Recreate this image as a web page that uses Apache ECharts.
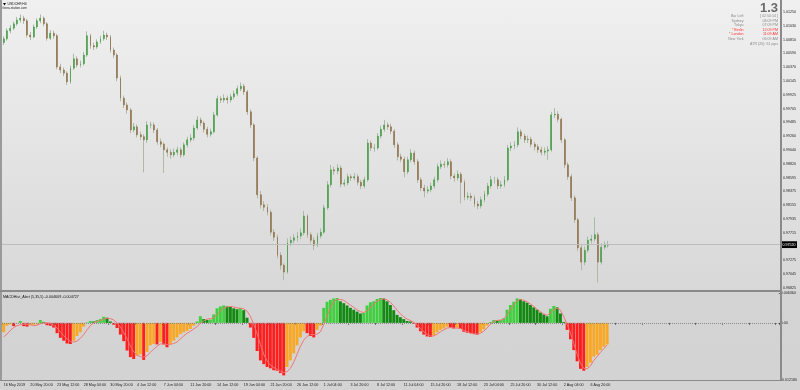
<!DOCTYPE html>
<html><head><meta charset="utf-8">
<script src="https://cdn.jsdelivr.net/npm/echarts@6/dist/echarts.min.js"></script>
<style>
html,body{margin:0;padding:0;}
#c{width:800px;height:390px;background:linear-gradient(to bottom,#f0f0f0 0px,#d8d8d8 290px,#d4d4d4 292px,#d3d3d3 390px);}
</style>
</head><body><div id="c"></div>
<script>
// ---- axis structure ----
const slotCount = 233; // visible 8h bar slots across the plot
const xTickLabels = ["16 May 2019","20 May 20:00","23 May 12:00","28 May 04:00","30 May 20:00","4 Jun 12:00","7 Jun 04:00","11 Jun 20:00","14 Jun 12:00","19 Jun 04:00","21 Jun 20:00","26 Jun 12:00","1 Jul 04:00","3 Jul 20:00","8 Jul 12:00","11 Jul 04:00","15 Jul 20:00","18 Jul 12:00","23 Jul 04:00","25 Jul 20:00","30 Jul 12:00","2 Aug 04:00","6 Aug 20:00"];
const xTickEvery = 8;
const priceTicks = ["1.01250","1.01030","1.00810","1.00590","1.00370","1.00145","0.99925","0.99705","0.99485","0.99260","0.99040","0.98820","0.98595","0.98375","0.98155","0.97935","0.97715","0.97495","0.97275","0.97045","0.96825"];
const macdTicks = [-0.012180, 0, 0.006364];

// ---- price data (USDCHF) ----
const opens = [1.0076,1.0082,1.0095,1.0099,1.0106,1.0112,1.0115,1.0111,1.0088,1.0085,
1.0101,1.0111,1.0115,1.0106,1.0083,1.0091,1.0087,1.0037,1.0032,1.0027,
1.0013,1.0035,1.0050,1.0040,1.0042,1.0056,1.0087,1.0071,1.0069,1.0077,
1.0082,1.0088,1.0085,1.0064,1.0056,1.0019,0.9987,0.9976,0.9968,0.9936,
0.9941,0.9928,0.9925,0.9920,0.9944,0.9944,0.9936,0.9917,0.9913,0.9904,
0.9900,0.9896,0.9900,0.9904,0.9896,0.9912,0.9920,0.9923,0.9939,0.9952,
0.9947,0.9937,0.9929,0.9933,0.9960,0.9986,0.9984,0.9987,0.9984,0.9989,
0.9994,1.0002,1.0006,0.9997,0.9965,0.9944,0.9891,0.9832,0.9816,0.9812,
0.9804,0.9772,0.9764,0.9735,0.9719,0.9708,0.9755,0.9759,0.9763,0.9766,
0.9771,0.9798,0.9768,0.9759,0.9751,0.9766,0.9772,0.9811,0.9848,0.9872,
0.9870,0.9875,0.9849,0.9851,0.9861,0.9859,0.9861,0.9852,0.9846,0.9856,
0.9915,0.9907,0.9907,0.9926,0.9937,0.9944,0.9941,0.9934,0.9912,0.9893,
0.9889,0.9869,0.9888,0.9899,0.9885,0.9856,0.9843,0.9838,0.9840,0.9846,
0.9856,0.9877,0.9881,0.9880,0.9885,0.9862,0.9859,0.9865,0.9852,0.9828,
0.9830,0.9827,0.9817,0.9814,0.9824,0.9833,0.9846,0.9856,0.9856,0.9846,
0.9848,0.9856,0.9907,0.9910,0.9912,0.9933,0.9926,0.9920,0.9921,0.9913,
0.9909,0.9904,0.9900,0.9902,0.9904,0.9960,0.9961,0.9953,0.9920,0.9880,
0.9861,0.9827,0.9792,0.9747,0.9724,0.9743,0.9759,0.9761,0.9768,0.9724,
0.9748,0.9751];
const highs = [1.0086,1.0099,1.0104,1.0110,1.0117,1.0121,1.0119,1.0114,1.0093,1.0105,
1.0115,1.0121,1.0118,1.0109,1.0096,1.0095,1.0090,1.0042,1.0036,1.0030,
1.0039,1.0058,1.0054,1.0047,1.0061,1.0094,1.0090,1.0076,1.0081,1.0087,
1.0095,1.0092,1.0088,1.0068,1.0059,1.0023,0.9991,0.9980,0.9971,0.9947,
0.9945,0.9933,0.9929,0.9950,0.9949,0.9948,0.9939,0.9922,0.9916,0.9908,
0.9905,0.9906,0.9909,0.9908,0.9916,0.9925,0.9929,0.9944,0.9958,0.9956,
0.9950,0.9941,0.9938,0.9965,0.9991,0.9990,0.9993,0.9991,0.9994,0.9999,
1.0007,1.0012,1.0010,1.0000,0.9969,0.9947,0.9894,0.9838,0.9822,0.9817,
0.9808,0.9777,0.9768,0.9740,0.9722,0.9762,0.9765,0.9769,0.9772,0.9778,
0.9806,0.9801,0.9772,0.9764,0.9771,0.9778,0.9816,0.9854,0.9880,0.9877,
0.9881,0.9879,0.9857,0.9866,0.9865,0.9867,0.9865,0.9856,0.9861,0.9921,
0.9919,0.9913,0.9931,0.9943,0.9952,0.9948,0.9946,0.9937,0.9916,0.9898,
0.9893,0.9893,0.9905,0.9903,0.9889,0.9860,0.9848,0.9846,0.9851,0.9861,
0.9882,0.9887,0.9886,0.9891,0.9889,0.9866,0.9871,0.9868,0.9856,0.9836,
0.9835,0.9831,0.9822,0.9829,0.9838,0.9851,0.9862,0.9861,0.9860,0.9854,
0.9862,0.9912,0.9916,0.9918,0.9940,0.9937,0.9930,0.9927,0.9925,0.9917,
0.9913,0.9909,0.9908,0.9910,0.9965,0.9971,0.9966,0.9956,0.9923,0.9884,
0.9865,0.9831,0.9795,0.9751,0.9749,0.9765,0.9768,0.9796,0.9772,0.9754,
0.9757,0.9758];
const lows = [1.0072,1.0079,1.0091,1.0096,1.0103,1.0108,1.0106,1.0084,1.0080,1.0083,
1.0098,1.0107,1.0102,1.0079,1.0080,1.0082,1.0033,1.0027,1.0022,1.0008,
1.0010,1.0032,1.0036,1.0036,1.0039,1.0053,1.0066,1.0064,1.0066,1.0074,
1.0079,1.0080,1.0060,1.0051,1.0014,0.9982,0.9971,0.9962,0.9931,0.9932,
0.9924,0.9920,0.9868,0.9915,0.9938,0.9931,0.9912,0.9908,0.9867,0.9893,
0.9890,0.9892,0.9895,0.9891,0.9893,0.9908,0.9916,0.9919,0.9936,0.9942,
0.9932,0.9924,0.9925,0.9930,0.9957,0.9979,0.9980,0.9978,0.9980,0.9985,
0.9990,0.9998,0.9992,0.9960,0.9939,0.9886,0.9826,0.9810,0.9806,0.9799,
0.9767,0.9758,0.9730,0.9712,0.9695,0.9705,0.9750,0.9754,0.9757,0.9761,
0.9767,0.9763,0.9754,0.9743,0.9748,0.9762,0.9769,0.9808,0.9844,0.9864,
0.9865,0.9844,0.9845,0.9847,0.9854,0.9855,0.9847,0.9841,0.9842,0.9853,
0.9902,0.9901,0.9904,0.9922,0.9933,0.9936,0.9929,0.9907,0.9887,0.9884,
0.9860,0.9865,0.9884,0.9880,0.9851,0.9838,0.9828,0.9834,0.9836,0.9842,
0.9852,0.9873,0.9875,0.9876,0.9857,0.9853,0.9855,0.9818,0.9823,0.9824,
0.9822,0.9812,0.9809,0.9810,0.9820,0.9829,0.9842,0.9850,0.9841,0.9842,
0.9844,0.9853,0.9902,0.9905,0.9908,0.9921,0.9915,0.9915,0.9908,0.9903,
0.9899,0.9895,0.9895,0.9888,0.9901,0.9955,0.9948,0.9915,0.9875,0.9856,
0.9822,0.9787,0.9742,0.9711,0.9719,0.9739,0.9754,0.9757,0.9691,0.9720,
0.9744,0.9747];
const closes = [1.0082,1.0095,1.0099,1.0106,1.0112,1.0115,1.0111,1.0088,1.0085,1.0101,
1.0111,1.0115,1.0106,1.0083,1.0091,1.0087,1.0037,1.0032,1.0027,1.0013,
1.0035,1.0050,1.0040,1.0042,1.0056,1.0087,1.0071,1.0069,1.0077,1.0082,
1.0088,1.0085,1.0064,1.0056,1.0019,0.9987,0.9976,0.9968,0.9936,0.9941,
0.9928,0.9925,0.9920,0.9944,0.9944,0.9936,0.9917,0.9913,0.9904,0.9900,
0.9896,0.9900,0.9904,0.9896,0.9912,0.9920,0.9923,0.9939,0.9952,0.9947,
0.9937,0.9929,0.9933,0.9960,0.9986,0.9984,0.9987,0.9984,0.9989,0.9994,
1.0002,1.0006,0.9997,0.9965,0.9944,0.9891,0.9832,0.9816,0.9812,0.9804,
0.9772,0.9764,0.9735,0.9719,0.9708,0.9755,0.9759,0.9763,0.9766,0.9771,
0.9798,0.9768,0.9759,0.9751,0.9766,0.9772,0.9811,0.9848,0.9872,0.9870,
0.9875,0.9849,0.9851,0.9861,0.9859,0.9861,0.9852,0.9846,0.9856,0.9915,
0.9907,0.9907,0.9926,0.9937,0.9944,0.9941,0.9934,0.9912,0.9893,0.9889,
0.9869,0.9888,0.9899,0.9885,0.9856,0.9843,0.9838,0.9840,0.9846,0.9856,
0.9877,0.9881,0.9880,0.9885,0.9862,0.9859,0.9865,0.9852,0.9828,0.9830,
0.9827,0.9817,0.9814,0.9824,0.9833,0.9846,0.9856,0.9856,0.9846,0.9848,
0.9856,0.9907,0.9910,0.9912,0.9933,0.9926,0.9920,0.9921,0.9913,0.9909,
0.9904,0.9900,0.9902,0.9904,0.9960,0.9961,0.9953,0.9920,0.9880,0.9861,
0.9827,0.9792,0.9747,0.9724,0.9743,0.9759,0.9761,0.9768,0.9724,0.9748,
0.9751,0.9752];

// ---- MACDHist_Alert (5,35,5) ----
const macdHist = [-0.0020,-0.0006,-0.0003,-0.0007,-0.0001,0.0004,-0.0007,-0.0008,-0.0005,-0.0004,
-0.0003,0.0006,0.0002,-0.0005,-0.0006,-0.0010,-0.0022,-0.0032,-0.0038,-0.0044,
-0.0045,-0.0038,-0.0028,-0.0020,-0.0008,0.0001,0.0004,0.0003,0.0006,0.0008,
0.0013,0.0011,0.0003,-0.0004,-0.0011,-0.0025,-0.0039,-0.0059,-0.0073,-0.0077,
-0.0070,-0.0067,-0.0079,-0.0062,-0.0048,-0.0045,-0.0046,-0.0041,-0.0046,-0.0052,
-0.0045,-0.0038,-0.0031,-0.0024,-0.0020,-0.0017,-0.0013,-0.0006,0.0003,0.0014,
0.0008,0.0006,0.0007,0.0018,0.0031,0.0035,0.0037,0.0035,0.0034,0.0031,
0.0029,0.0032,0.0027,0.0011,-0.0010,-0.0032,-0.0060,-0.0080,-0.0088,-0.0094,
-0.0097,-0.0101,-0.0102,-0.0107,-0.0112,-0.0094,-0.0080,-0.0065,-0.0048,-0.0031,
-0.0018,-0.0022,-0.0028,-0.0031,-0.0015,-0.0006,0.0032,0.0045,0.0049,0.0052,
0.0053,0.0046,0.0042,0.0037,0.0032,0.0028,0.0024,0.0020,0.0021,0.0037,
0.0044,0.0046,0.0051,0.0053,0.0052,0.0046,0.0038,0.0027,0.0017,0.0012,
0.0008,0.0004,0.0003,-0.0002,-0.0010,-0.0018,-0.0025,-0.0029,-0.0030,-0.0027,
-0.0020,-0.0015,-0.0012,-0.0008,-0.0010,-0.0012,-0.0010,-0.0013,-0.0019,-0.0021,
-0.0022,-0.0024,-0.0025,-0.0020,-0.0014,-0.0006,0.0002,0.0006,0.0005,0.0006,
0.0010,0.0028,0.0038,0.0045,0.0052,0.0050,0.0046,0.0043,0.0038,0.0033,
0.0028,0.0022,0.0018,0.0014,0.0030,0.0036,0.0033,0.0020,0.0002,-0.0015,
-0.0035,-0.0058,-0.0082,-0.0098,-0.0102,-0.0094,-0.0085,-0.0072,-0.0068,-0.0058,
-0.0051,-0.004609];
const macdSignal = [-0.0030,-0.0024,-0.0016,-0.0010,-0.0006,-0.0004,-0.0003,-0.0003,-0.0004,-0.0006,
-0.0005,-0.0002,0.0000,0.0000,-0.0001,-0.0005,-0.0011,-0.0019,-0.0027,-0.0034,
-0.0040,-0.0041,-0.0039,-0.0033,-0.0025,-0.0015,-0.0006,0.0000,0.0003,0.0005,
0.0008,0.0010,0.0009,0.0006,0.0000,-0.0009,-0.0020,-0.0034,-0.0049,-0.0062,
-0.0069,-0.0072,-0.0073,-0.0070,-0.0063,-0.0056,-0.0050,-0.0045,-0.0045,-0.0046,
-0.0046,-0.0044,-0.0041,-0.0034,-0.0028,-0.0022,-0.0018,-0.0013,-0.0008,-0.0001,
0.0004,0.0008,0.0009,0.0011,0.0017,0.0025,0.0031,0.0034,0.0035,0.0034,
0.0032,0.0031,0.0030,0.0025,0.0014,-0.0003,-0.0023,-0.0046,-0.0067,-0.0081,
-0.0090,-0.0095,-0.0099,-0.0103,-0.0106,-0.0104,-0.0097,-0.0084,-0.0067,-0.0050,
-0.0037,-0.0029,-0.0025,-0.0025,-0.0024,-0.0019,-0.0004,0.0015,0.0032,0.0045,
0.0050,0.0050,0.0048,0.0043,0.0038,0.0033,0.0028,0.0024,0.0022,0.0026,
0.0032,0.0040,0.0046,0.0050,0.0051,0.0049,0.0044,0.0036,0.0027,0.0019,
0.0013,0.0008,0.0005,0.0001,-0.0005,-0.0012,-0.0019,-0.0025,-0.0028,-0.0028,
-0.0024,-0.0019,-0.0015,-0.0011,-0.0010,-0.0011,-0.0011,-0.0012,-0.0016,-0.0019,
-0.0022,-0.0023,-0.0024,-0.0022,-0.0018,-0.0011,-0.0003,0.0003,0.0005,0.0006,
0.0008,0.0017,0.0029,0.0039,0.0047,0.0050,0.0048,0.0045,0.0040,0.0035,
0.0029,0.0024,0.0019,0.0016,0.0021,0.0028,0.0031,0.0027,0.0013,-0.0003,
-0.0022,-0.0044,-0.0067,-0.0086,-0.0097,-0.0098,-0.0092,-0.0080,-0.0072,-0.0063,
-0.0055,-0.004727];

// ---- build ----
const FONT = 'Liberation Sans';
const slots = Array.from({length: slotCount}, (_, i) => String(i));
const priceMax = parseFloat(priceTicks[0]);
const priceMin = parseFloat(priceTicks[priceTicks.length - 1]);
const priceStep = (priceMax - priceMin) / (priceTicks.length - 1);
const macdMin = macdTicks[0], macdMax = macdTicks[macdTicks.length - 1];

const wickData = closes.map((c, i) => [opens[i], c, lows[i], highs[i]]);
const bodyData = closes.map((c, i) => [opens[i], c, Math.min(opens[i], c), Math.max(opens[i], c)]);
const histData = macdHist.map((v, i) => {
  const prev = i > 0 ? macdHist[i - 1] : v;
  let col;
  if (v >= 0) col = v >= prev ? '#3fcf3f' : '#128a12';
  else col = v < prev ? '#ff1e1e' : '#f9a825';
  return {value: v, itemStyle: {color: col}};
});
const lastClose = closes[closes.length - 1];

const chart = echarts.init(document.getElementById('c'), null, {renderer: 'canvas'});
const txt = (x, y, s, opt) => ({type: 'text', x: x, y: y, silent: true, z: 50,
  style: Object.assign({text: s, fontFamily: FONT, fontSize: 3.6, fill: '#111', textVerticalAlign: 'middle'}, opt || {})});
const line = (x1, y1, x2, y2, c, w) => ({type: 'line', silent: true, z: 40,
  shape: {x1: x1, y1: y1, x2: x2, y2: y2}, style: {stroke: c, lineWidth: w}});

const infoRows = [
  ['Bar Left', '[ 02:50:14 ]', '#8a8a8a'],
  ['Sydney', '08:09 PM', '#8a8a8a'],
  ['Tokyo', '07:09 PM', '#8a8a8a'],
  ['* Berlin', '12:09 PM', '#ff3030'],
  ['* London', '11:09 AM', '#ff3030'],
  ['New York', '06:09 AM', '#8a8a8a']
];
const graphics = [
  line(1, 0, 1, 381, '#9a9a9a', 2),
  line(781, 0, 781, 381, '#8a8a8a', 2),
  line(0, 291, 782, 291, '#8a8a8a', 2),
  line(0, 380.5, 782, 380.5, '#8a8a8a', 1),
  {type: 'polygon', silent: true, z: 50, shape: {points: [[3, 3], [6, 3], [4.5, 5.5]]}, style: {fill: '#000'}},
  txt(7.5, 4.3, 'USDCHF,H4', {fontSize: 3.4}),
  txt(2.5, 8.5, 'forex-station.com', {fontSize: 3.2, fill: '#222'}),
  txt(3, 296.5, 'MACDHist_Alert (5,35,5) -0.004609 -0.004727', {fontSize: 3.7}),
  txt(778, 8, '1.3', {fontSize: 13, fontWeight: 'bold', fill: '#6a6a6a', textAlign: 'right'}),
  txt(778, 43.5, 'ATR (20): 61 pips', {fill: '#8a8a8a', textAlign: 'right'})
];
infoRows.forEach((r, k) => {
  const y = 16 + k * 4.6;
  graphics.push(txt(743.5, y, r[0], {fill: r[2], textAlign: 'right'}));
  graphics.push(txt(778, y, r[1], {fill: r[2], textAlign: 'right'}));
});

chart.setOption({
  animation: false,
  backgroundColor: 'transparent',
  textStyle: {fontFamily: FONT},
  grid: [
    {left: 2, right: 20, top: 12, height: 276},
    {left: 2, right: 20, top: 293, height: 87}
  ],
  xAxis: [
    {type: 'category', gridIndex: 0, data: slots, boundaryGap: true,
     axisLine: {show: false}, axisTick: {show: false}, axisLabel: {show: false}, splitLine: {show: false}},
    {type: 'category', gridIndex: 1, data: slots, boundaryGap: true,
     axisLine: {show: false},
     axisTick: {show: true, interval: (i) => i % xTickEvery === 0, length: 2, lineStyle: {color: '#444', width: 0.8}},
     axisLabel: {show: true, interval: (i) => i % xTickEvery === 0, align: 'left', margin: 3,
       fontSize: 3.7, color: '#222', fontFamily: FONT,
       formatter: (v, idx) => xTickLabels[Math.round(idx / xTickEvery)] || ''},
     splitLine: {show: false}}
  ],
  yAxis: [
    {type: 'value', gridIndex: 0, position: 'right', min: priceMin, max: priceMax, interval: priceStep,
     axisLine: {show: false}, splitLine: {show: false},
     axisTick: {show: true, length: 2, lineStyle: {color: '#444', width: 0.8}},
     axisLabel: {show: true, margin: 3, fontSize: 3.6, color: '#222', fontFamily: FONT,
       formatter: (v) => priceTicks[Math.round((priceMax - v) / priceStep)] || ''}},
    {type: 'value', gridIndex: 1, position: 'right', min: macdMin, max: macdMax,
     axisLine: {show: false}, splitLine: {show: false},
     axisTick: {show: true, length: 2, customValues: macdTicks, lineStyle: {color: '#444', width: 0.8}},
     axisLabel: {show: true, margin: 2, fontSize: 3.6, color: '#222', fontFamily: FONT, customValues: macdTicks,
       formatter: (v) => Math.abs(v) < 1e-9 ? '0.00' : v.toFixed(6)}}
  ],
  series: [
    {name: 'wicks', type: 'candlestick', xAxisIndex: 0, yAxisIndex: 0, data: wickData, barWidth: 1,
     itemStyle: {color: '#a7bca7', color0: '#b3b8a6', borderColor: '#a7bca7', borderColor0: '#b3b8a6', borderWidth: 1}},
    {name: 'bodies', type: 'candlestick', xAxisIndex: 0, yAxisIndex: 0, data: bodyData, barWidth: 1.4,
     itemStyle: {color: '#3f9a3f', color0: '#8c6d45', borderColor: '#3f9a3f', borderColor0: '#8c6d45', borderWidth: 0.5}},
    {name: 'lastPrice', type: 'line', xAxisIndex: 0, yAxisIndex: 0, data: [], symbol: 'none', z: 1,
     markLine: {silent: true, symbol: ['none', 'none'], precision: 5, data: [{yAxis: lastClose}],
       lineStyle: {color: '#bdbdbd', width: 1, type: 'solid'},
       label: {show: true, position: 'end', distance: 1, formatter: () => lastClose.toFixed(5),
         backgroundColor: '#000', color: '#fff', fontSize: 3.6, padding: [1.6, 1.5, 1.2, 1.5], fontFamily: FONT}}},
    {name: 'hist', type: 'bar', xAxisIndex: 1, yAxisIndex: 1, data: histData, barCategoryGap: '12%',
     markLine: {silent: true, symbol: ['none', 'none'], data: [{yAxis: 0}],
       lineStyle: {color: '#8c8c8c', width: 1, type: 'dotted'}, label: {show: false}}},
    {name: 'signal', type: 'line', xAxisIndex: 1, yAxisIndex: 1, data: macdSignal, showSymbol: false,
     symbol: 'none', lineStyle: {color: '#f27474', width: 1}, z: 5}
  ],
  graphic: graphics
});
</script>
</body></html>
